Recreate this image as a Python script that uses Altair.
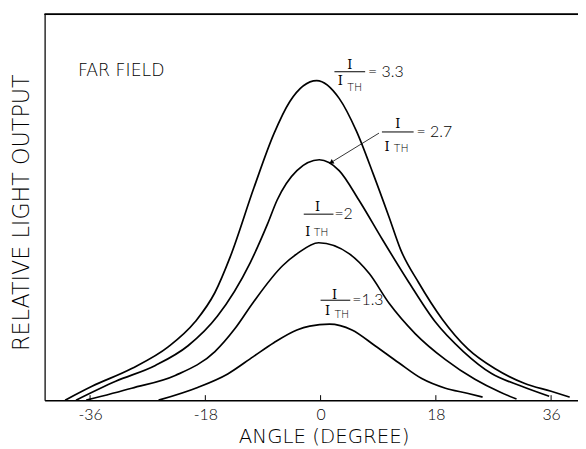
import altair as alt
import pandas as pd

# ---- curve data (angle in degrees, relative light output 0..100) ----
angle_33 = [-39.9, -35.7, -29.5, -23.8, -19.6, -16.5, -14.1, -10.4, -7.3, -4.8, -0.6,
            2.9, 5.6, 8.2, 10.7, 12.5, 15.3, 19.0, 23.0, 27.2, 31.8, 36.0, 38.9]
rel_33 = [0.0, 3.6, 8.2, 13.8, 20.3, 27.9, 37.2, 55.1, 69.0, 77.4, 82.8,
          78.2, 69.7, 58.7, 47.4, 39.0, 30.5, 21.0, 13.3, 8.2, 4.4, 2.3, 0.8]

angle_27 = [-38.2, -32.0, -25.8, -20.7, -16.1, -11.0, -8.3, -6.8, -3.7, -0.2,
            2.9, 6.0, 9.7, 13.8, 17.9, 22.3, 26.7, 31.4, 35.7]
rel_27 = [0.0, 4.9, 9.0, 14.1, 21.8, 35.6, 45.6, 51.8, 59.5, 62.3,
          59.5, 51.8, 41.5, 30.5, 20.3, 12.6, 6.9, 3.6, 1.0]

angle_20 = [-36.6, -29.5, -22.7, -16.5, -13.4, -10.5, -5.9, -3.7, -0.3,
            4.5, 7.6, 10.7, 14.8, 19.5, 24.1, 28.0, 30.6]
rel_20 = [0.0, 3.1, 6.4, 12.6, 18.5, 25.4, 34.9, 37.9, 40.8,
          37.9, 32.8, 25.1, 17.2, 10.5, 5.4, 2.1, 0.3]

angle_13 = [-25.3, -19.2, -14.5, -10.5, -7.3, -3.7, -1.7, 1.4,
            4.9, 8.5, 12.2, 15.8, 19.5, 22.9, 25.3]
rel_13 = [0.0, 3.3, 6.8, 11.3, 14.9, 18.2, 19.2, 19.7,
          18.2, 14.1, 9.7, 5.6, 3.1, 1.8, 0.8]

series_names = ["3.3", "2.7", "2", "1.3"]
x_ticks = [-36, -18, 0, 18, 36]

# ---- label data ----
lab_num_x = [4.56, 12.06, -0.46, 2.16]
lab_num_y = [86.9, 71.5, 50.0, 27.2]
lab_bar_x1 = [2.16, 9.58, -2.63, 0.0]
lab_bar_x2 = [6.96, 14.53, 2.01, 4.64]
lab_bar_y = [85.1, 69.5, 48.2, 25.9]
lab_den_x = [3.09, 10.36, -2.01, 1.08]
lab_den_y = [82.6, 65.6, 43.6, 23.2]
lab_sub_x = [4.17, 11.44, -1.08, 2.16]
lab_sub_y = [81.0, 65.1, 43.3, 22.1]
lab_eq_x = [7.42, 14.99, 2.16, 4.95]
lab_eq_y = [84.9, 69.5, 48.2, 25.9]
lab_eq_text = ["= 3.3", "= 2.7", "=2", "=1.3"]

arrow_from = (9.12, 69.2)
arrow_to = (1.55, 61.5)

X_DOMAIN = [-43.1, 40.2]
Y_DOMAIN = [0, 100]
W, H = 539, 390

rows = []
for name, xs, ys in zip(series_names,
                        [angle_33, angle_27, angle_20, angle_13],
                        [rel_33, rel_27, rel_20, rel_13]):
    for a, r in zip(xs, ys):
        rows.append({"series": name, "angle": a, "rel": r})
curves = pd.DataFrame(rows)

labels = pd.DataFrame({
    "num_x": lab_num_x, "num_y": lab_num_y,
    "bx1": lab_bar_x1, "bx2": lab_bar_x2, "by": lab_bar_y,
    "den_x": lab_den_x, "den_y": lab_den_y,
    "sub_x": lab_sub_x, "sub_y": lab_sub_y,
    "eq_x": lab_eq_x, "eq_y": lab_eq_y, "eq_text": lab_eq_text,
})

ticks = pd.DataFrame({"t": x_ticks, "y0": [0] * len(x_ticks), "y1": [1.3] * len(x_ticks)})
arrow = pd.DataFrame({"x": [arrow_from[0]], "y": [arrow_from[1]],
                      "x2": [arrow_to[0]], "y2": [arrow_to[1]]})
head = pd.DataFrame({"x": [arrow_to[0] + 0.2], "y": [arrow_to[1] + 0.2]})
farfield = pd.DataFrame({"x": [-37.9], "y": [85.4], "text": ["FAR FIELD"]})

SANS = "DejaVu Sans"
NUM = "Lato"
SERIF = "DejaVu Serif"

xscale = alt.Scale(domain=X_DOMAIN, nice=False, zero=False)
yscale = alt.Scale(domain=Y_DOMAIN, nice=False, zero=False)

x_axis = alt.Axis(values=x_ticks, ticks=False, grid=False, domainColor="black",
                  domainWidth=1.5, labelFont=NUM, labelFontSize=16, labelColor="black",
                  labelFontWeight=300, labelPadding=7,
                  labelExpr="toString(datum.value)",
                  title="ANGLE (DEGREE)", titleFont=SANS, titleFontSize=20,
                  titleFontWeight=200, titleColor="black", titlePadding=4, titleX=282)
y_axis = alt.Axis(ticks=False, labels=False, grid=False, domainColor="black",
                  domainWidth=1.2, title="RELATIVE LIGHT OUTPUT", titleFont=SANS,
                  titleFontSize=22.5, titleFontWeight=200, titleColor="black",
                  titlePadding=11, titleY=200)

lines = alt.Chart(curves).mark_line(color="black", strokeWidth=1.7,
                                    interpolate="monotone").encode(
    x=alt.X("angle:Q", scale=xscale, axis=x_axis),
    y=alt.Y("rel:Q", scale=yscale, axis=y_axis),
    detail="series:N",
)

tick_rules = alt.Chart(ticks).mark_rule(color="black", strokeWidth=1).encode(
    x="t:Q", y="y0:Q", y2="y1:Q")

top_border = alt.Chart(ticks).mark_rule(color="black", strokeWidth=1.2).encode(
    x=alt.value(0), x2=alt.value(W), y=alt.value(0))

num = alt.Chart(labels).mark_text(font=SERIF, fontSize=13, fontWeight=200, color="black",
                                  baseline="middle", align="center").encode(
    x="num_x:Q", y="num_y:Q", text=alt.value("I"))
bars = alt.Chart(labels).mark_rule(color="black", strokeWidth=1).encode(
    x="bx1:Q", x2="bx2:Q", y="by:Q")
den = alt.Chart(labels).mark_text(font=SERIF, fontSize=13, fontWeight=200, color="black",
                                  baseline="middle", align="center").encode(
    x="den_x:Q", y="den_y:Q", text=alt.value("I"))
sub = alt.Chart(labels).mark_text(font=SANS, fontSize=11, fontWeight=200, color="black",
                                  baseline="middle", align="left").encode(
    x="sub_x:Q", y="sub_y:Q", text=alt.value("TH"))
eq = alt.Chart(labels).mark_text(font=NUM, fontSize=16, fontWeight=300, color="black",
                                 baseline="middle", align="left").encode(
    x="eq_x:Q", y="eq_y:Q", text="eq_text:N")

arrow_line = alt.Chart(arrow).mark_rule(color="black", strokeWidth=0.8).encode(
    x="x:Q", y="y:Q", x2="x2:Q", y2="y2:Q")
arrow_head = alt.Chart(head).mark_point(shape="triangle", filled=True, color="black",
                                        size=28, angle=238.5, opacity=1).encode(
    x="x:Q", y="y:Q")

ff = alt.Chart(farfield).mark_text(font=SANS, fontSize=17.5, fontWeight=200, color="black",
                                   baseline="middle", align="left").encode(
    x="x:Q", y="y:Q", text="text:N")

chart = alt.layer(lines, tick_rules, top_border, num, bars, den, sub, eq,
                  arrow_line, arrow_head, ff).properties(
    width=W, height=H,
    autosize=alt.AutoSizeParams(type="none"),
    padding={"left": 37, "top": 4, "right": 0, "bottom": 45},
).configure_view(stroke=None).configure(background="white")

chart.save("out.html", embed_options={"renderer": "svg", "actions": False})
